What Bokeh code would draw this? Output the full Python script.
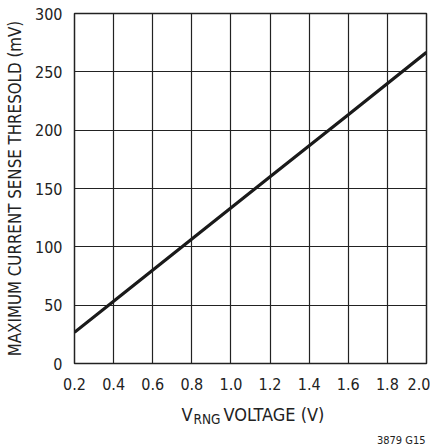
from bokeh.plotting import figure
from bokeh.models import Range1d, FixedTicker
from bokeh.layouts import column
from bokeh.core.properties import value
from bokeh.embed import file_html
from bokeh.resources import INLINE

# data
v_rng = [0.2, 0.4, 0.8, 1.2, 1.6, 2.0]
threshold_mv = [26.7, 53.3, 106.7, 160.0, 213.3, 266.7]
x_ticks = [0.2, 0.4, 0.6, 0.8, 1.0, 1.2, 1.4, 1.6, 1.8, 2.0]
y_ticks = [0, 50, 100, 150, 200, 250, 300]
y_title = "MAXIMUM CURRENT SENSE THRESOLD (mV)"
x_title_main = "V"
x_title_sub = "RNG"
x_title_rest = "VOLTAGE (V)"
fig_id = "3879 G15"

FONT = "DejaVu Sans Condensed"
INK = "#222222"
W = 430
FL, FR = 74, 426  # frame left/right on the page

p = figure(width=W, height=398, output_backend="svg", toolbar_location=None,
           x_range=Range1d(0.2, 2.0), y_range=Range1d(0, 300),
           min_border_left=FL, min_border_right=W - FR, min_border_top=13,
           min_border_bottom=35)

p.line(v_rng, threshold_mv, line_color="#1a1a1a", line_width=3.2)

p.outline_line_color = INK
p.outline_line_width = 1.5
for ax in (p.xaxis[0], p.yaxis[0]):
    ax.axis_line_color = None
    ax.major_tick_line_color = None
    ax.minor_tick_line_color = None
    ax.major_label_text_font = FONT
    ax.major_label_text_font_size = "16px"
    ax.major_label_text_color = INK
p.xaxis[0].ticker = FixedTicker(ticks=x_ticks)
p.yaxis[0].ticker = FixedTicker(ticks=y_ticks)
p.xaxis[0].major_label_overrides = {t: f"{t:.1f}" for t in x_ticks}
p.xaxis[0].major_label_standoff = 8
p.yaxis[0].major_label_standoff = 6
p.yaxis[0].axis_label = y_title
p.yaxis[0].axis_label_text_font = FONT
p.yaxis[0].axis_label_text_font_style = "normal"
p.yaxis[0].axis_label_text_font_size = "16.8px"
p.yaxis[0].axis_label_text_color = INK
p.yaxis[0].axis_label_standoff = 7

p.xgrid.ticker = FixedTicker(ticks=x_ticks)
p.ygrid.ticker = FixedTicker(ticks=y_ticks)
for g in (p.xgrid[0], p.ygrid[0]):
    g.grid_line_color = INK
    g.grid_line_width = 1.2
    g.grid_line_alpha = 1.0

# caption strip below the chart (page-pixel coordinates, y downward)
q = figure(width=W, height=50, output_backend="svg", toolbar_location=None,
           x_range=Range1d(FL, FR), y_range=Range1d(448, 398),
           min_border_left=FL, min_border_right=W - FR, min_border_top=0,
           min_border_bottom=0, x_axis_type=None, y_axis_type=None)
q.outline_line_color = None
q.xgrid.visible = False
q.ygrid.visible = False

q.text(x=[181], y=[414], text=[x_title_main], text_align="left", text_baseline="alphabetic",
       text_font=value(FONT), text_font_size="18px", text_color=INK)
q.text(x=[193], y=[418], text=[x_title_sub], text_align="left", text_baseline="alphabetic",
       text_font=value(FONT), text_font_size="13.5px", text_color=INK)
q.text(x=[223], y=[414], text=[x_title_rest], text_align="left", text_baseline="alphabetic",
       text_font=value(FONT), text_font_size="18px", text_color=INK)
q.text(x=[425], y=[440], text=[fig_id], text_align="right", text_baseline="alphabetic",
       text_font=value(FONT), text_font_size="11px", text_color=INK)

layout = column(p, q, spacing=0)
open("out.html", "w").write(file_html(layout, INLINE))
